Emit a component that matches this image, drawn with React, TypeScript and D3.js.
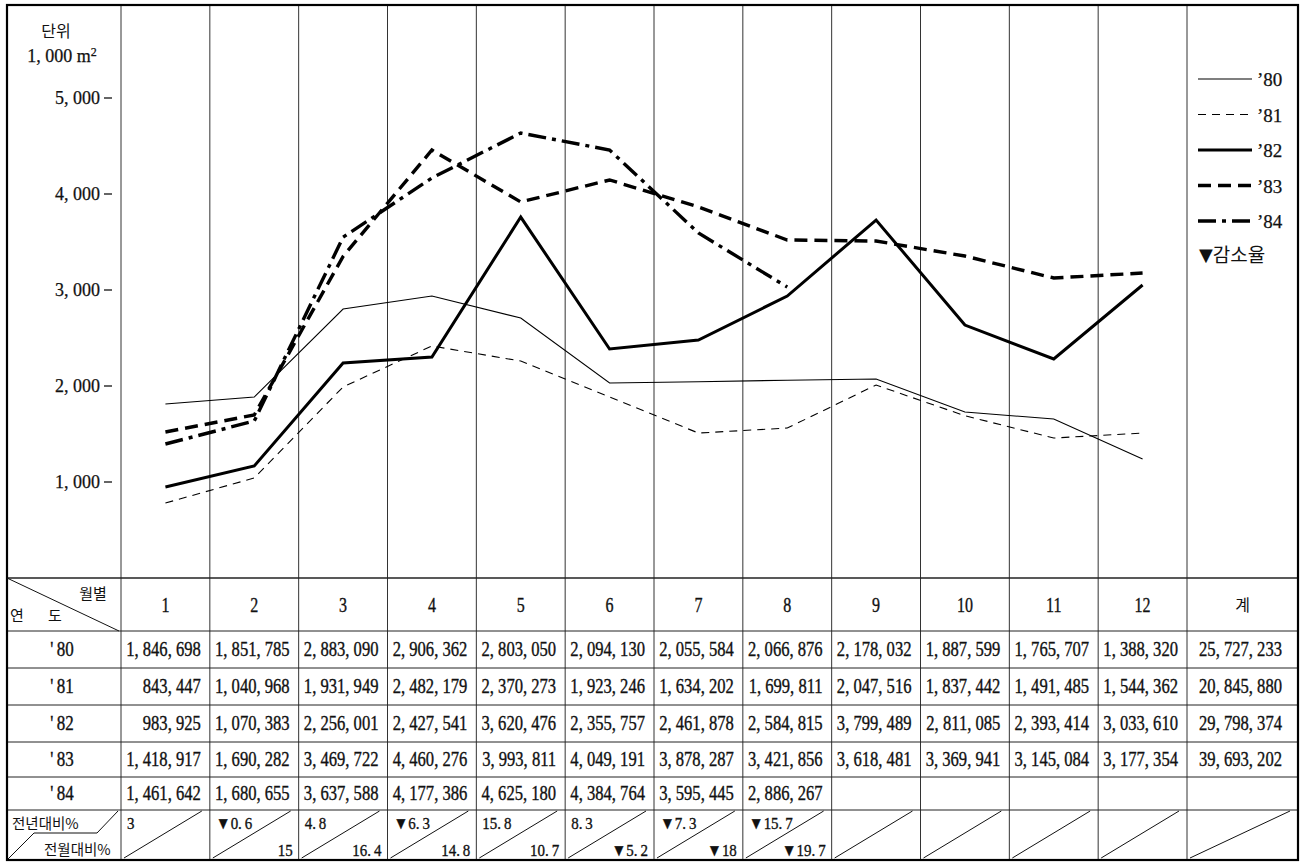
import * as d3 from 'd3';

// monthly floor area of building permits, unit 1,000 m² (chart) / m² (table)
const MONTHS = [1, 2, 3, 4, 5, 6, 7, 8, 9, 10, 11, 12];
const YEARS = ["'80", "'81", "'82", "'83", "'84"];

// table values
const table80 = [1846698, 1851785, 2883090, 2906362, 2803050, 2094130, 2055584, 2066876, 2178032, 1887599, 1765707, 1388320];
const table81 = [843447, 1040968, 1931949, 2482179, 2370273, 1923246, 1634202, 1699811, 2047516, 1837442, 1491485, 1544362];
const table82 = [983925, 1070383, 2256001, 2427541, 3620476, 2355757, 2461878, 2584815, 3799489, 2811085, 2393414, 3033610];
const table83 = [1418917, 1690282, 3469722, 4460276, 3993811, 4049191, 3878287, 3421856, 3618481, 3369941, 3145084, 3177354];
const table84 = [1461642, 1680655, 3637588, 4177386, 4625180, 4384764, 3595445, 2886267];
const totals = [25727233, 20845880, 29798374, 39693202, null];

// values as the (hand drawn) lines show them, 1,000 m²
const line80 = [1812, 1885, 2802, 2937, 2708, 2031, 2045, 2060, 2073, 1729, 1656, 1240];
const line81 = [781, 1042, 1990, 2417, 2260, 1885, 1510, 1562, 2010, 1690, 1458, 1510];
const line82 = [948, 1167, 2240, 2302, 3760, 2385, 2479, 2937, 3729, 2635, 2281, 3052];
const line83 = [1521, 1698, 3350, 4458, 3917, 4146, 3865, 3521, 3510, 3354, 3125, 3177];
const line84 = [1396, 1635, 3550, 4167, 4635, 4458, 3594, 3031];

// '84 change rates: vs previous year / vs previous month (negative = decrease)
const yoyRate = [3, -0.6, 4.8, -6.3, 15.8, 8.3, -7.3, -15.7];
const momRate = [null, 15, 16.4, 14.8, 10.7, -5.2, -18, -19.7];

const yTicks = [1000, 2000, 3000, 4000, 5000];

const STYLES = [
  { width: 1.1, dash: null },
  { width: 1.1, dash: '8,6' },
  { width: 3, dash: null },
  { width: 3.4, dash: '13,7' },
  { width: 3.4, dash: '18,6,4,6' },
];

const SERIF = "'Liberation Serif', 'DejaVu Serif', serif";
const KR = "'Noto Sans CJK KR', sans-serif";
const INK = '#111';

const LEFT = 7, RIGHT = 1298, TOP = 5, BOTTOM = 860;
const ROWS = [578, 631, 668, 705, 742, 777, 810, 860];

const x = d3.scaleBand<number>().domain(MONTHS).range([121, 1187]);
const y = d3.scaleLinear().domain([0, 6000]).range([578, 2]);
const cx = (m: number) => (x(m) as number) + x.bandwidth() / 2;

const fmtNum = (n: number) => d3.format(',')(n).replace(/,/g, ', ');
const fmtRate = (r: number | null) => r == null ? '' : (r < 0 ? '▼' : '') + String(Math.abs(r)).replace('.', '.\u2009');

function Cond({ x: tx, y: ty, anchor = 'end', size = 20, sx = 0.83, children }:
  { x: number; y: number; anchor?: string; size?: number; sx?: number; children: any }) {
  return (
    <text transform={`translate(${tx},${ty}) scale(${sx},1)`} textAnchor={anchor} fontFamily={SERIF} fontSize={size}
      fill={INK} stroke={INK} strokeWidth={0.35}>
      {children}
    </text>
  );
}

export default function App() {
  const lines = [line80, line81, line82, line83, line84];
  const tables = [table80, table81, table82, table83, table84];
  const lineGen = d3.line<number>().x((_, i) => cx(MONTHS[i])).y((d) => y(d));
  const colEdges = [...MONTHS.map((m) => x(m) as number), 1187];
  const totalX = (1187 + RIGHT) / 2;

  return (
    <div style={{ position: 'absolute', left: 0, top: 0, width: 1305, height: 865, background: '#fff' }}>
      <svg width={1305} height={865} style={{ display: 'block' }}>
        <rect width={1305} height={865} fill="#fff" />

        {/* vertical column lines */}
        {colEdges.map((cxv, i) => (
          <line key={i} x1={cxv} x2={cxv} y1={TOP} y2={BOTTOM} stroke="#333" strokeWidth={1} />
        ))}
        {/* table horizontal lines */}
        {ROWS.slice(0, -1).map((ry, i) => (
          <line key={i} x1={LEFT} x2={RIGHT} y1={ry} y2={ry} stroke="#222" strokeWidth={i === 0 ? 1.5 : 1} />
        ))}
        <rect x={LEFT} y={TOP} width={RIGHT - LEFT} height={BOTTOM - TOP} fill="none" stroke="#000" strokeWidth={2.2} />

        {/* unit and y ticks */}
        <text x={56} y={37} textAnchor="middle" fontFamily={KR} fontSize={16} fill={INK}>단위</text>
        <text x={62} y={62} textAnchor="middle" fontFamily={SERIF} fontSize={18} fill={INK} stroke={INK} strokeWidth={0.25}>
          {fmtNum(1000)} m<tspan fontSize={12} dy={-6}>2</tspan>
        </text>
        {yTicks.map((t) => (
          <g key={t}>
            <text x={100} y={y(t) + 6} textAnchor="end" fontFamily={SERIF} fontSize={18} fill={INK}
              stroke={INK} strokeWidth={0.25}>{fmtNum(t)}</text>
            <line x1={104} x2={112} y1={y(t)} y2={y(t)} stroke={INK} strokeWidth={1.3} />
          </g>
        ))}

        {/* series lines */}
        {lines.map((vals, i) => (
          <path key={i} d={lineGen(vals) as string} fill="none" stroke="#000" strokeWidth={STYLES[i].width}
            strokeDasharray={STYLES[i].dash ?? undefined} strokeLinejoin="miter" />
        ))}

        {/* legend */}
        {YEARS.map((yr, i) => {
          const ly = 79 + i * 35.5;
          return (
            <g key={yr}>
              <line x1={1198} x2={1252} y1={ly} y2={ly} stroke="#000" strokeWidth={STYLES[i].width}
                strokeDasharray={STYLES[i].dash ?? undefined} />
              <text x={1257} y={ly + 7} fontFamily={SERIF} fontSize={19} fill={INK} stroke={INK} strokeWidth={0.25}>
                {yr.replace("'", '\u2019')}
              </text>
            </g>
          );
        })}
        <text x={1199} y={262} fontFamily={KR} fontSize={19} fill={INK}>
          <tspan fontFamily="'DejaVu Sans', sans-serif" fontSize={18} dy={-1}>▼</tspan>
          <tspan dy={1}>감소율</tspan>
        </text>

        {/* table header */}
        <line x1={LEFT} y1={ROWS[0]} x2={119} y2={ROWS[1]} stroke={INK} strokeWidth={1} />
        <text x={93} y={599} textAnchor="middle" fontFamily={KR} fontSize={15} fill={INK}>월별</text>
        <text x={17} y={621} textAnchor="middle" fontFamily={KR} fontSize={15} fill={INK}>연</text>
        <text x={55} y={621} textAnchor="middle" fontFamily={KR} fontSize={15} fill={INK}>도</text>
        {MONTHS.map((m) => (
          <Cond key={m} x={cx(m)} y={612} anchor="middle" size={20} sx={0.8}>{m}</Cond>
        ))}
        <text x={totalX} y={611} textAnchor="middle" fontFamily={KR} fontSize={16} fill={INK}>계</text>

        {/* table body */}
        {YEARS.map((yr, r) => {
          const by = (ROWS[r + 1] + ROWS[r + 2]) / 2 + 6;
          return (
            <g key={yr}>
              <Cond x={62} y={by} anchor="middle" sx={0.85}>{yr.replace("'", "'\u2009")}</Cond>
              {tables[r].map((v, i) => (
                <Cond key={i} x={(x(MONTHS[i]) as number) + x.bandwidth() - 9} y={by}>{fmtNum(v)}</Cond>
              ))}
              {totals[r] != null && <Cond x={totalX - 2} y={by} anchor="middle">{fmtNum(totals[r] as number)}</Cond>}
            </g>
          );
        })}

        {/* change-rate row */}
        <polyline points={`118,${ROWS[6] + 1} 97,833 34,833 ${LEFT + 1},${BOTTOM - 1}`} fill="none" stroke={INK} strokeWidth={1} />
        <text x={12} y={829} fontFamily={KR} fontSize={14.5} fill={INK}>전년대비%</text>
        <text x={44} y={855} fontFamily={KR} fontSize={14.5} fill={INK}>전월대비%</text>
        {[...MONTHS, 13].map((m) => {
          const x0 = m <= 12 ? (x(m) as number) : 1187;
          const x1 = m <= 12 ? x0 + x.bandwidth() : RIGHT;
          return <line key={m} x1={x0 + 3} y1={BOTTOM - 2} x2={x1 - 8} y2={ROWS[6] + 1} stroke={INK} strokeWidth={1} />;
        })}
        {yoyRate.map((r, i) => (
          <Cond key={'y' + i} x={(x(MONTHS[i]) as number) + 6} y={829} anchor="start" size={17} sx={0.88}>{fmtRate(r)}</Cond>
        ))}
        {momRate.map((r, i) => (
          <Cond key={'m' + i} x={(x(MONTHS[i]) as number) + x.bandwidth() - 6} y={856} anchor="end" size={17} sx={0.88}>{fmtRate(r)}</Cond>
        ))}
      </svg>
    </div>
  );
}
